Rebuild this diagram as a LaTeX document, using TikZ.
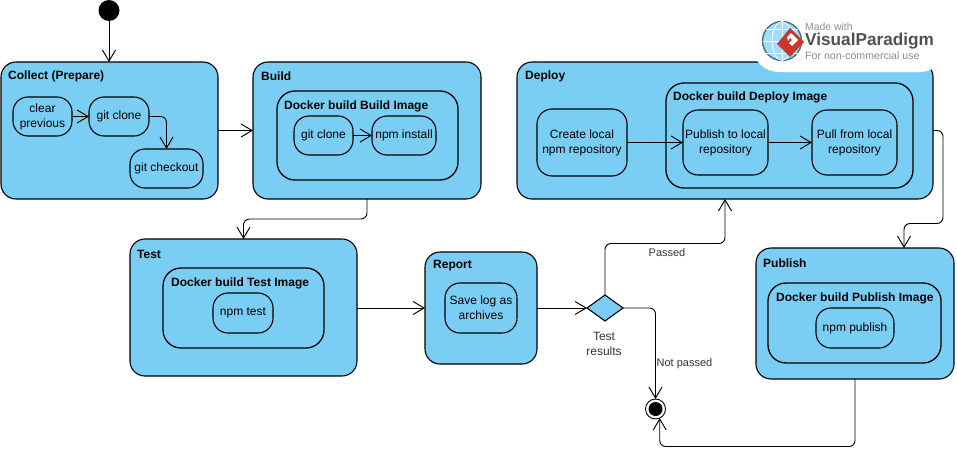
\documentclass[tikz,border=0pt]{standalone}
\usepackage{fontspec}
\setmainfont{Liberation Sans}
\usetikzlibrary{shapes.geometric,arrows.meta,calc}
\definecolor{statefill}{HTML}{7ACEF4}
\definecolor{logogray}{HTML}{8C8C8C}
\definecolor{logodark}{HTML}{4D5257}
\definecolor{logored}{HTML}{C8362C}
\tikzset{
    statebox/.style={draw,rounded corners=15pt,fill=statefill,line width=1.1pt,inner sep=0pt,outer sep=0pt},
    dockerbox/.style={draw,rounded corners=18pt,fill=statefill,line width=1.3pt,inner sep=0pt,outer sep=0pt},
    actbox/.style={draw,rounded corners=15pt,fill=statefill,line width=1.1pt,inner sep=0pt,outer sep=0pt,align=center,font=\fontsize{12}{15}\selectfont},
    titletext/.style={anchor=west,inner sep=0pt,yshift=-1pt,font=\fontsize{12}{15}\selectfont\bfseries},
    plaintext/.style={align=center,inner sep=0pt,text=black!80,font=\fontsize{12}{14.5}\selectfont},
    edgetext/.style={inner sep=0pt,text=black!80,font=\fontsize{11}{13}\selectfont},
    flow/.style={-{Straight Barb[length=11pt,width=13pt]},line width=0.95pt,rounded corners=6pt}
}
\begin{document}
\begin{tikzpicture}[x=1pt,y=-1pt]
    \useasboundingbox (0,0) rectangle (957,460);

    \node[circle,fill=black,minimum size=21pt,inner sep=0pt] (start) at (109,10.5) {};

    \node[statebox,minimum width=217pt,minimum height=137pt] (collect) at (109.5,130.5) {};
    \node[titletext] (collecttitle) at (8,75) {Collect (Prepare)};
    \node[actbox,minimum width=59pt,minimum height=39pt] (clear) at (42.5,116.5) {clear\\previous};
    \node[actbox,minimum width=60pt,minimum height=39pt] (cloneA) at (119,116.5) {git clone};
    \node[actbox,minimum width=73pt,minimum height=39pt] (checkout) at (166.5,168.5) {git checkout};

    \node[statebox,minimum width=228pt,minimum height=137pt] (build) at (367,130.5) {};
    \node[titletext] (buildtitle) at (261,75) {Build};
    \node[dockerbox,minimum width=181pt,minimum height=89pt] (buildimg) at (367.5,135.5) {};
    \node[titletext] (buildimgtitle) at (284,105) {Docker build Build Image};
    \node[actbox,minimum width=59pt,minimum height=39pt] (cloneB) at (323.5,135.5) {git clone};
    \node[actbox,minimum width=64pt,minimum height=39pt] (install) at (404,135.5) {npm install};

    \node[statebox,minimum width=416pt,minimum height=137pt] (deploy) at (725,130.5) {};
    \node[titletext] (deploytitle) at (525,75) {Deploy};
    \node[dockerbox,minimum width=247pt,minimum height=105pt] (deployimg) at (789.5,135.5) {};
    \node[titletext] (deployimgtitle) at (673,96) {Docker build Deploy Image};
    \node[actbox,minimum width=90pt,minimum height=67pt] (create) at (582,142.5) {Create local\\npm repository};
    \node[actbox,minimum width=85pt,minimum height=65pt] (publocal) at (725.5,142.5) {Publish to local\\repository};
    \node[actbox,minimum width=85pt,minimum height=65pt] (pull) at (854.5,142.5) {Pull from local\\repository};

    \node[statebox,minimum width=227pt,minimum height=137pt] (test) at (243.5,307.5) {};
    \node[titletext] (testtitle) at (137,253) {Test};
    \node[dockerbox,minimum width=161pt,minimum height=80pt] (testimg) at (243.5,308) {};
    \node[titletext] (testimgtitle) at (171,282) {Docker build Test Image};
    \node[actbox,minimum width=60pt,minimum height=40pt] (npmtest) at (243,313) {npm test};

    \node[statebox,minimum width=112pt,minimum height=112pt] (report) at (481,308) {};
    \node[titletext] (reporttitle) at (433,265) {Report};
    \node[actbox,minimum width=72pt,minimum height=50pt] (savelog) at (481,308) {Save log as\\archives};

    \node[diamond,draw,fill=statefill,line width=1.1pt,aspect=1.385,minimum width=36pt,minimum height=26pt,inner sep=0pt,outer sep=0pt] (decide) at (605,308) {};
    \node[plaintext] (decidetext) at (604,344) {Test\\results};

    \node[statebox,minimum width=198pt,minimum height=131pt] (publish) at (855,313.5) {};
    \node[titletext] (publishtitle) at (763,262) {Publish};
    \node[dockerbox,minimum width=173pt,minimum height=80pt] (publishimg) at (854.5,323) {};
    \node[titletext] (publishimgtitle) at (776,297) {Docker build Publish Image};
    \node[actbox,minimum width=78pt,minimum height=40pt] (npmpublish) at (855,328) {npm publish};

    \node[circle,draw,fill=white,line width=0.9pt,minimum size=20pt,inner sep=0pt,outer sep=0pt] (final) at (655.5,409) {};
    \node[circle,fill=black,minimum size=14pt,inner sep=0pt] (finaldot) at (final) {};

    \draw[flow] (start) -- (collect.north -| start);
    \draw[flow] (clear.east) -- (cloneA.west);
    \draw[flow] (cloneA.east) -| (checkout.north);
    \draw[flow] (collect.east) -- (build.west);
    \draw[flow] (cloneB.east) -- (install.west);
    \draw[flow] (build.south) -- ++(0,20) -| (test.north);
    \draw[flow] (test.east |- report) -- (report.west);
    \draw[flow] (report.east) -- (decide.west);
    \draw[flow] (decide.north) -- ++(0,-51.5) -| (deploy.south);
    \node[edgetext] (passedtext) at (667,252.5) {Passed};
    \draw[flow] (decide.east) -| (final.north);
    \node[edgetext] (notpassedtext) at (684.5,364) {Not passed};
    \draw[flow] (create.east) -- (publocal.west);
    \draw[flow] (publocal.east) -- (pull.west);
    \draw[flow] (deploy.east) -- ++(10,0) -- ++(0,93) -| ($(publish.north)+(49,0)$);
    \draw[flow] (publish.south) -- ++(0,67.5) -| (final.-65);

    \fill[white,rounded corners=27pt] (752,11) rectangle (947,72);
    \filldraw[draw=black!45!statefill,fill=statefill!70,line width=1.4pt] (782,41) circle (19.5);
    \draw[white,line width=0.8pt] (762.5,41) -- (801.5,41) (782,21.5) -- (782,60.5) (766,29) -- (798,29) (766,53) -- (798,53);
    \draw[white,line width=0.8pt] (782,41) ellipse (10 and 19.5);
    \fill[logored] (790,28) -- (804,42) -- (790,57) -- (777,44) -- cycle;
    \fill[white] (787,37) -- (791,33) -- (798,40) -- (792,46) -- (789,43) -- (792,40) -- (790,38) -- (788,41) -- cycle;
    \node[anchor=west,inner sep=0pt,text=logogray,font=\fontsize{10.4}{12}\selectfont] (madewith) at (805,27) {Made with};
    \node[anchor=west,inner sep=0pt,text=logodark,font=\fontsize{17.2}{20}\selectfont\bfseries] (vpname) at (805,41) {VisualParadigm};
    \node[anchor=west,inner sep=0pt,text=logogray,font=\fontsize{10.6}{12}\selectfont] (noncommercial) at (805,56) {For non-commercial use};
\end{tikzpicture}
\end{document}
